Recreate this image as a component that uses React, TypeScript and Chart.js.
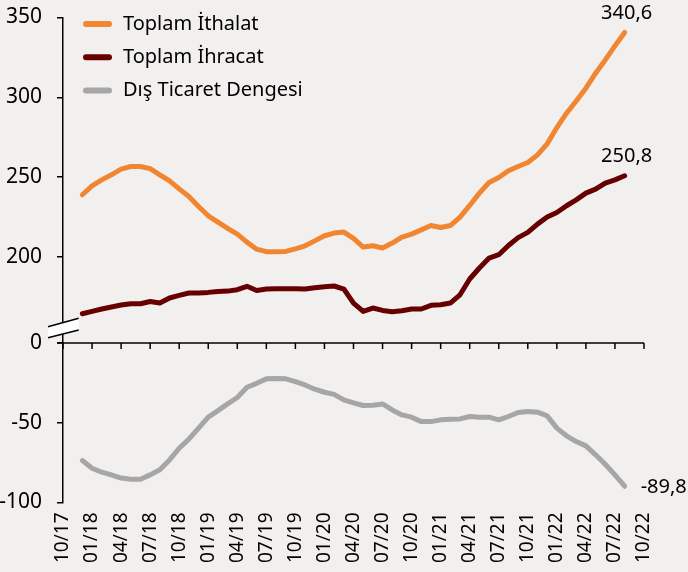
import React, { useEffect, useRef } from 'react';
import { Chart, registerables } from 'chart.js';

Chart.register(...registerables);

// Axis runs from 10/17 (index 0) to 10/22 (index 60), labelled every quarter
const quarterLabels = [
  '10/17', '01/18', '04/18', '07/18', '10/18', '01/19', '04/19', '07/19', '10/19',
  '01/20', '04/20', '07/20', '10/20', '01/21', '04/21', '07/21', '10/21',
  '01/22', '04/22', '07/22', '10/22',
];

const months = [
  '12/17',
  '01/18', '02/18', '03/18', '04/18', '05/18', '06/18', '07/18', '08/18', '09/18', '10/18', '11/18', '12/18',
  '01/19', '02/19', '03/19', '04/19', '05/19', '06/19', '07/19', '08/19', '09/19', '10/19', '11/19', '12/19',
  '01/20', '02/20', '03/20', '04/20', '05/20', '06/20', '07/20', '08/20', '09/20', '10/20', '11/20', '12/20',
  '01/21', '02/21', '03/21', '04/21', '05/21', '06/21', '07/21', '08/21', '09/21', '10/21', '11/21', '12/21',
  '01/22', '02/22', '03/22', '04/22', '05/22', '06/22', '07/22', '08/22',
];

const seriesNames = ['Toplam İthalat', 'Toplam İhracat', 'Dış Ticaret Dengesi'];

const imports = [
  238.9, 244.5, 248.2, 251.4, 255.0, 256.6, 256.6, 255.3, 251.4, 247.6, 242.6, 237.8, 231.5,
  225.7, 221.7, 217.8, 214.2, 209.2, 204.8, 203.2, 203.2, 203.4, 205.0, 206.9, 210.0,
  213.2, 214.9, 215.5, 211.5, 206.1, 206.9, 205.5, 208.6, 212.4, 214.2, 216.9, 219.6,
  218.4, 219.6, 224.9, 232.2, 239.9, 246.6, 249.7, 253.9, 256.6, 259.1, 263.9, 270.8,
  281.0, 290.0, 297.7, 305.7, 315.1, 323.4, 332.2, 340.6,
];

const exportsSeries = [
  164.3, 165.8, 167.3, 168.5, 169.8, 170.6, 170.6, 172.0, 171.0, 174.2, 175.8, 177.3, 177.3,
  177.7, 178.3, 178.5, 179.4, 181.5, 178.9, 179.8, 180.0, 180.0, 180.0, 179.8, 180.6,
  181.2, 181.7, 179.8, 171.0, 165.8, 167.9, 166.4, 165.6, 166.2, 167.3, 167.3, 169.6,
  170.0, 171.0, 176.2, 186.1, 193.0, 199.2, 201.3, 207.1, 212.0, 215.3, 220.5, 224.9,
  227.8, 232.0, 235.7, 239.9, 242.4, 246.2, 248.2, 250.8,
];

const balance = [
  -73.7, -78.5, -81.0, -82.7, -84.7, -85.4, -85.4, -82.7, -79.5, -73.3, -66.0, -60.3, -53.4,
  -46.5, -42.4, -38.2, -34.2, -27.8, -25.3, -22.5, -22.3, -22.5, -24.2, -26.3, -29.0,
  -30.9, -32.2, -35.7, -37.5, -39.2, -39.0, -38.2, -42.0, -45.1, -46.5, -49.3, -49.3,
  -48.2, -47.8, -47.6, -46.1, -46.5, -46.5, -48.2, -46.1, -43.6, -43.0, -43.4, -45.7,
  -53.4, -58.2, -61.8, -64.5, -70.1, -76.0, -82.7, -89.8,
];

const topTicks = [200, 250, 300, 350];
const bottomTicks = [-100, -50, 0];

const colors = ['#F18632', '#670000', '#A6A6A6'];
const BG = '#F2F0EE';
const FONT = "'Noto Sans', 'Open Sans', sans-serif";

// month label "MM/YY" -> months since 10/17
const monthIndex = (lbl: string) => {
  const [mm, yy] = lbl.split('/').map(Number);
  return (yy - 17) * 12 + (mm - 10);
};

const toPoints = (vals: number[]) => vals.map((v, i) => ({ x: monthIndex(months[i]), y: v }));

const fmt = (v: number) => v.toFixed(1).replace('.', ',');

const decorPlugin = {
  id: 'decor',
  afterDatasetsDraw(chart: any) {
    const { ctx, chartArea, scales } = chart;
    const yb = scales.y.getPixelForValue(0);
    const L = chartArea.left;
    ctx.save();
    // x axis at zero with tick marks
    ctx.strokeStyle = '#000';
    ctx.lineWidth = 1.5;
    ctx.beginPath();
    ctx.moveTo(L - 6, yb);
    ctx.lineTo(chartArea.right, yb);
    scales.x.ticks.forEach((t: any) => {
      const px = scales.x.getPixelForValue(t.value);
      ctx.moveTo(px, yb);
      ctx.lineTo(px, yb + 6);
    });
    ctx.stroke();

    // axis break marker
    ctx.beginPath();
    ctx.moveTo(L - 15, yb - 16.3);
    ctx.lineTo(L + 15.7, yb - 24.7);
    ctx.lineTo(L + 15.7, yb - 13);
    ctx.lineTo(L - 15, yb - 5.3);
    ctx.closePath();
    ctx.fillStyle = '#FFFFFF';
    ctx.fill();
    ctx.beginPath();
    ctx.moveTo(L - 15, yb - 16.3);
    ctx.lineTo(L + 15.7, yb - 24.7);
    ctx.moveTo(L - 15, yb - 5.3);
    ctx.lineTo(L + 15.7, yb - 13);
    ctx.lineWidth = 1.5;
    ctx.stroke();

    // end value labels
    ctx.fillStyle = '#000';
    ctx.font = `20px ${FONT}`;
    chart.data.datasets.forEach((ds: any, i: number) => {
      const meta = chart.getDatasetMeta(i);
      const last = meta.data[meta.data.length - 1];
      const val = ds.data[ds.data.length - 1].y;
      if (i < 2) {
        ctx.textAlign = 'center';
        ctx.textBaseline = 'middle';
        ctx.fillText(fmt(val), last.x + 2, last.y - 19);
      } else {
        ctx.textAlign = 'left';
        ctx.textBaseline = 'middle';
        ctx.fillText(fmt(val), last.x + 16, last.y + 1);
      }
    });

    // legend
    chart.data.datasets.forEach((ds: any, i: number) => {
      const ly = chartArea.top + 6.5 + i * 33.3;
      ctx.strokeStyle = ds.borderColor;
      ctx.lineWidth = 6;
      ctx.lineCap = 'round';
      ctx.beginPath();
      ctx.moveTo(L + 23, ly);
      ctx.lineTo(L + 46, ly);
      ctx.stroke();
      ctx.fillStyle = '#000';
      ctx.textAlign = 'left';
      ctx.textBaseline = 'middle';
      ctx.font = `20px ${FONT}`;
      ctx.fillText(ds.label, L + 60, ly);
    });
    ctx.restore();
  },
};

const bgPlugin = {
  id: 'bg',
  beforeDraw(chart: any) {
    const { ctx, width, height } = chart;
    ctx.save();
    ctx.fillStyle = BG;
    ctx.fillRect(0, 0, width, height);
    ctx.restore();
  },
};

const yCommon = {
  type: 'linear',
  position: 'left',
  stack: 'v',
  afterFit: (s: any) => {
    s.width = 63;
    s.paddingTop = 0;
    s.paddingBottom = 0;
  },
  grid: { drawOnChartArea: false, drawTicks: true, tickLength: 6, color: '#000', lineWidth: 1.5 },
  border: { display: true, color: '#000', width: 1.5 },
};

export default function App() {
  const ref = useRef<HTMLCanvasElement | null>(null);
  useEffect(() => {
    if (!ref.current) return;
    const series = [imports, exportsSeries, balance];
    const chart = new Chart(ref.current, {
      type: 'line',
      data: {
        datasets: series.map((vals, i) => ({
          label: seriesNames[i],
          data: toPoints(vals),
          borderColor: colors[i],
          backgroundColor: colors[i],
          borderWidth: 5,
          pointRadius: 0,
          tension: 0,
          borderCapStyle: 'round',
          borderJoinStyle: 'round',
          yAxisID: i < 2 ? 'yTop' : 'y',
        })),
      },
      options: {
        animation: false,
        responsive: false,
        layout: { autoPadding: false, padding: { top: 17.5, right: 44, left: 0, bottom: 0 } },
        plugins: { legend: { display: false }, tooltip: { enabled: false } },
        scales: {
          x: {
            type: 'linear',
            min: 0,
            max: 60,
            afterBuildTicks: (s: any) => {
              s.ticks = quarterLabels.map((_, i) => ({ value: i * 3 }));
            },
            afterFit: (s: any) => {
              s.height = 69.5;
              s.paddingLeft = 0;
              s.paddingRight = 0;
            },
            grid: { display: false, drawTicks: false },
            border: { display: false },
            ticks: {
              autoSkip: false,
              minRotation: 90,
              maxRotation: 90,
              padding: 10,
              color: '#000',
              font: { family: FONT, size: 19 },
              callback: (v: any) => quarterLabels[Math.round(v / 3)] ?? '',
            },
          },
          y: {
            ...yCommon,
            stackWeight: 100,
            weight: 0,
            min: -100,
            max: 0,
            afterBuildTicks: (s: any) => {
              s.ticks = bottomTicks.map((value) => ({ value }));
            },
            ticks: { padding: 15, color: '#000', font: { family: FONT, size: 21 }, callback: (v: any) => String(v) },
          },
          yTop: {
            ...yCommon,
            stackWeight: 204,
            weight: 1,
            min: 146,
            max: 350,
            afterBuildTicks: (s: any) => {
              s.ticks = topTicks.map((value) => ({ value }));
            },
            ticks: { padding: 15, color: '#000', font: { family: FONT, size: 21 }, callback: (v: any) => String(v) },
          },
        },
      } as any,
      plugins: [bgPlugin, decorPlugin],
    } as any);
    return () => chart.destroy();
  }, []);

  return (
    <div style={{ position: 'fixed', left: 0, top: 0, width: 688, height: 572, background: BG }}>
      <canvas ref={ref} width={688} height={572} style={{ display: 'block' }} />
    </div>
  );
}
